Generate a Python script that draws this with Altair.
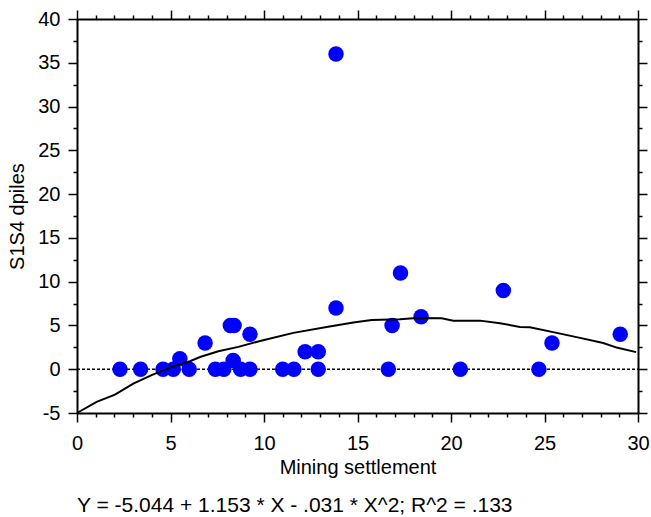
import altair as alt
import pandas as pd

# scatter points (Mining settlement, S1S4 dpiles)
pts_x = [2.3, 3.4, 4.6, 5.15, 5.5, 6.0, 6.85, 7.4, 7.85, 8.2, 8.35, 8.4, 8.75, 9.25, 9.25,
         11.0, 11.6, 12.2, 12.9, 12.9, 13.85, 13.85, 16.65, 16.85, 17.3, 18.4, 20.5, 22.8,
         24.7, 25.4, 29.05]
pts_y = [0, 0, 0, 0, 1.2, 0, 3, 0, 0, 5, 1, 5, 0, 4, 0,
         0, 0, 2, 2, 0, 7, 36, 0, 5, 11, 6, 0, 9,
         0, 3, 4]

# fitted curve
curve_x = [0, 1.05, 2.03, 3.01, 3.99, 5.06, 6.04, 6.58, 7.56, 8.63, 9.79, 11.57, 13.35, 14.78,
           15.76, 17.27, 18.16, 19.5, 20.12, 21.55, 22.62, 23.69, 24.22, 25.65, 26.9, 28.14,
           28.86, 29.9]
curve_y = [-5.0, -3.73, -2.9, -1.64, -0.68, 0.27, 0.91, 1.4, 2.05, 2.55, 3.23, 4.15, 4.83, 5.33,
           5.63, 5.7, 5.86, 5.82, 5.55, 5.55, 5.25, 4.83, 4.8, 4.15, 3.58, 3.0,
           2.47, 1.95]

ref_x = [0, 30]
ref_y = [0, 0]

x_ticks = list(range(0, 31))
y_ticks = [v / 2 for v in range(-10, 81, 5)]

equation = "Y = -5.044 + 1.153 * X - .031 * X^2; R^2 = .133"
x_title = "Mining settlement"
y_title = "S1S4 dpiles"

FONT = "Liberation Sans"

pts = pd.DataFrame({"x": pts_x, "y": pts_y})
curve = pd.DataFrame({"x": curve_x, "y": curve_y})
ref = pd.DataFrame({"x": ref_x, "y": ref_y})

xscale = alt.Scale(domain=[0, 30], nice=False, zero=False)
yscale = alt.Scale(domain=[-5, 40], nice=False, zero=False)

major_test = "abs(datum.value % 5) < 0.001"
# all ticks 9px long; minor ticks drawn as only their first 4px via a dash pattern
tick_dash = {"condition": {"test": major_test, "value": [20, 0]}, "value": [4, 30]}
label_expr = f"{major_test} ? replace(datum.label, '\u2212', '-') : ''"

common = dict(
    domainColor="black", domainWidth=2, tickColor="black", tickWidth=1.5,
    tickSize=9, tickDash=tick_dash, grid=False, labelFont=FONT, labelFontSize=20,
    labelColor="black", titleFont=FONT, titleFontSize=20, titleFontWeight="normal",
    titleColor="black",
)

x_bottom = alt.Axis(orient="bottom", values=x_ticks, title=x_title, labelExpr=label_expr,
                    labelPadding=11, titlePadding=4, labelFlush=False, labelOverlap=False, **common)
x_top = alt.Axis(orient="top", values=x_ticks, title=None, labels=False, **common)
y_left = alt.Axis(orient="left", values=y_ticks, title=y_title, labelExpr=label_expr,
                  labelPadding=8, titlePadding=10, labelFlush=False, labelOverlap=False, **common)
y_right = alt.Axis(orient="right", values=y_ticks, title=None, labels=False, **common)

refline = alt.Chart(ref).mark_line(color="black", strokeWidth=1.5, strokeDash=[3, 2]).encode(
    x=alt.X("x:Q", scale=xscale, axis=x_top),
    y=alt.Y("y:Q", scale=yscale, axis=y_right),
)

points = alt.Chart(pts).mark_circle(color="#0000FF", opacity=1, size=240).encode(
    x=alt.X("x:Q", scale=xscale, axis=x_bottom),
    y=alt.Y("y:Q", scale=yscale, axis=y_left),
)

line = alt.Chart(curve).mark_line(color="black", strokeWidth=2).encode(
    x=alt.X("x:Q", scale=xscale, axis=None),
    y=alt.Y("y:Q", scale=yscale, axis=None),
)

chart = alt.layer(refline, points, line).resolve_axis(
    x="independent", y="independent"
).properties(
    width=561, height=394,
    autosize=alt.AutoSizeParams(type="none"),
    padding={"left": 77, "top": 19, "right": 13, "bottom": 104},
    title=alt.TitleParams(text=equation, orient="bottom", anchor="start", frame="group",
                          font=FONT, fontSize=21, fontWeight="normal", color="black",
                          offset=18),
).configure_view(stroke=None).configure(background="white")

chart.save("out.html", embed_options={"renderer": "svg", "actions": False})
